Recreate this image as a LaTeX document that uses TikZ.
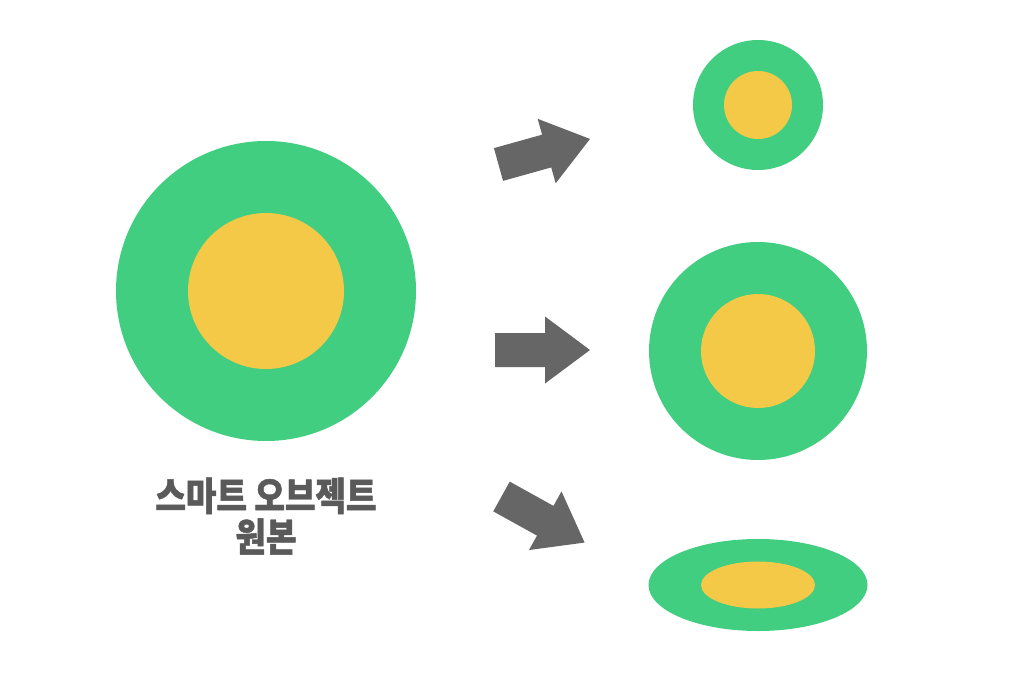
\documentclass[tikz,border=0pt]{standalone}
\usepackage{fontspec}
\newfontfamily\krfont[FakeStretch=0.85, FakeBold=1.2]{Noto Sans CJK KR Black}
\definecolor{ringgreen}{HTML}{41CE80}
\definecolor{coreyellow}{HTML}{F4C948}
\definecolor{arrowgray}{HTML}{666666}
\definecolor{labelgray}{HTML}{5A5A5A}
\tikzset{
  ring/.style={ellipse, fill=ringgreen, inner sep=0pt},
  core/.style={ellipse, fill=coreyellow, inner sep=0pt},
  blockarrow/.style={fill=arrowgray}
}
\usetikzlibrary{shapes.geometric}
\begin{document}
\begin{tikzpicture}
[x=1pt, y=-1pt]
\useasboundingbox[fill=white] (0,0) rectangle (1036,682);
% original: 300 = outer diameter, 156 = inner diameter
\node[ring, minimum width=300, minimum height=300] (orig) at (266,291) {};
\node[core, minimum width=156, minimum height=156] (origcore) at (orig) {};
% scaled copies: small, medium, squashed
\node[ring, minimum width=130, minimum height=130] (small) at (758,105) {};
\node[core, minimum width=68, minimum height=68] (smallcore) at (small) {};
\node[ring, minimum width=218, minimum height=218] (medium) at (758,351) {};
\node[core, minimum width=114, minimum height=114] (mediumcore) at (medium) {};
\node[ring, minimum width=219, minimum height=92] (flat) at (758,585) {};
\node[core, minimum width=114, minimum height=47] (flatcore) at (flat) {};
% block arrows: tail middle x, tail middle y, angle
% 17 = half shaft, 50 = shaft length, 33.5 = half head, 95 = tip
\foreach \ax/\ay/\ang in {498.5/164.5/15.6, 495/350/0, 501.5/496.5/-29}{
  \fill[blockarrow, shift={(\ax,\ay)}, rotate=\ang]
    (0,-17) -- (50,-17) -- (50,-33.5) -- (95,0) -- (50,33.5) -- (50,17) -- (0,17) -- cycle;
}
\node[text=labelgray, align=center, font=\krfont\fontsize{39}{41}\selectfont] (caption) at (266,516) {스마트 오브젝트\\원본};
\end{tikzpicture}
\end{document}
